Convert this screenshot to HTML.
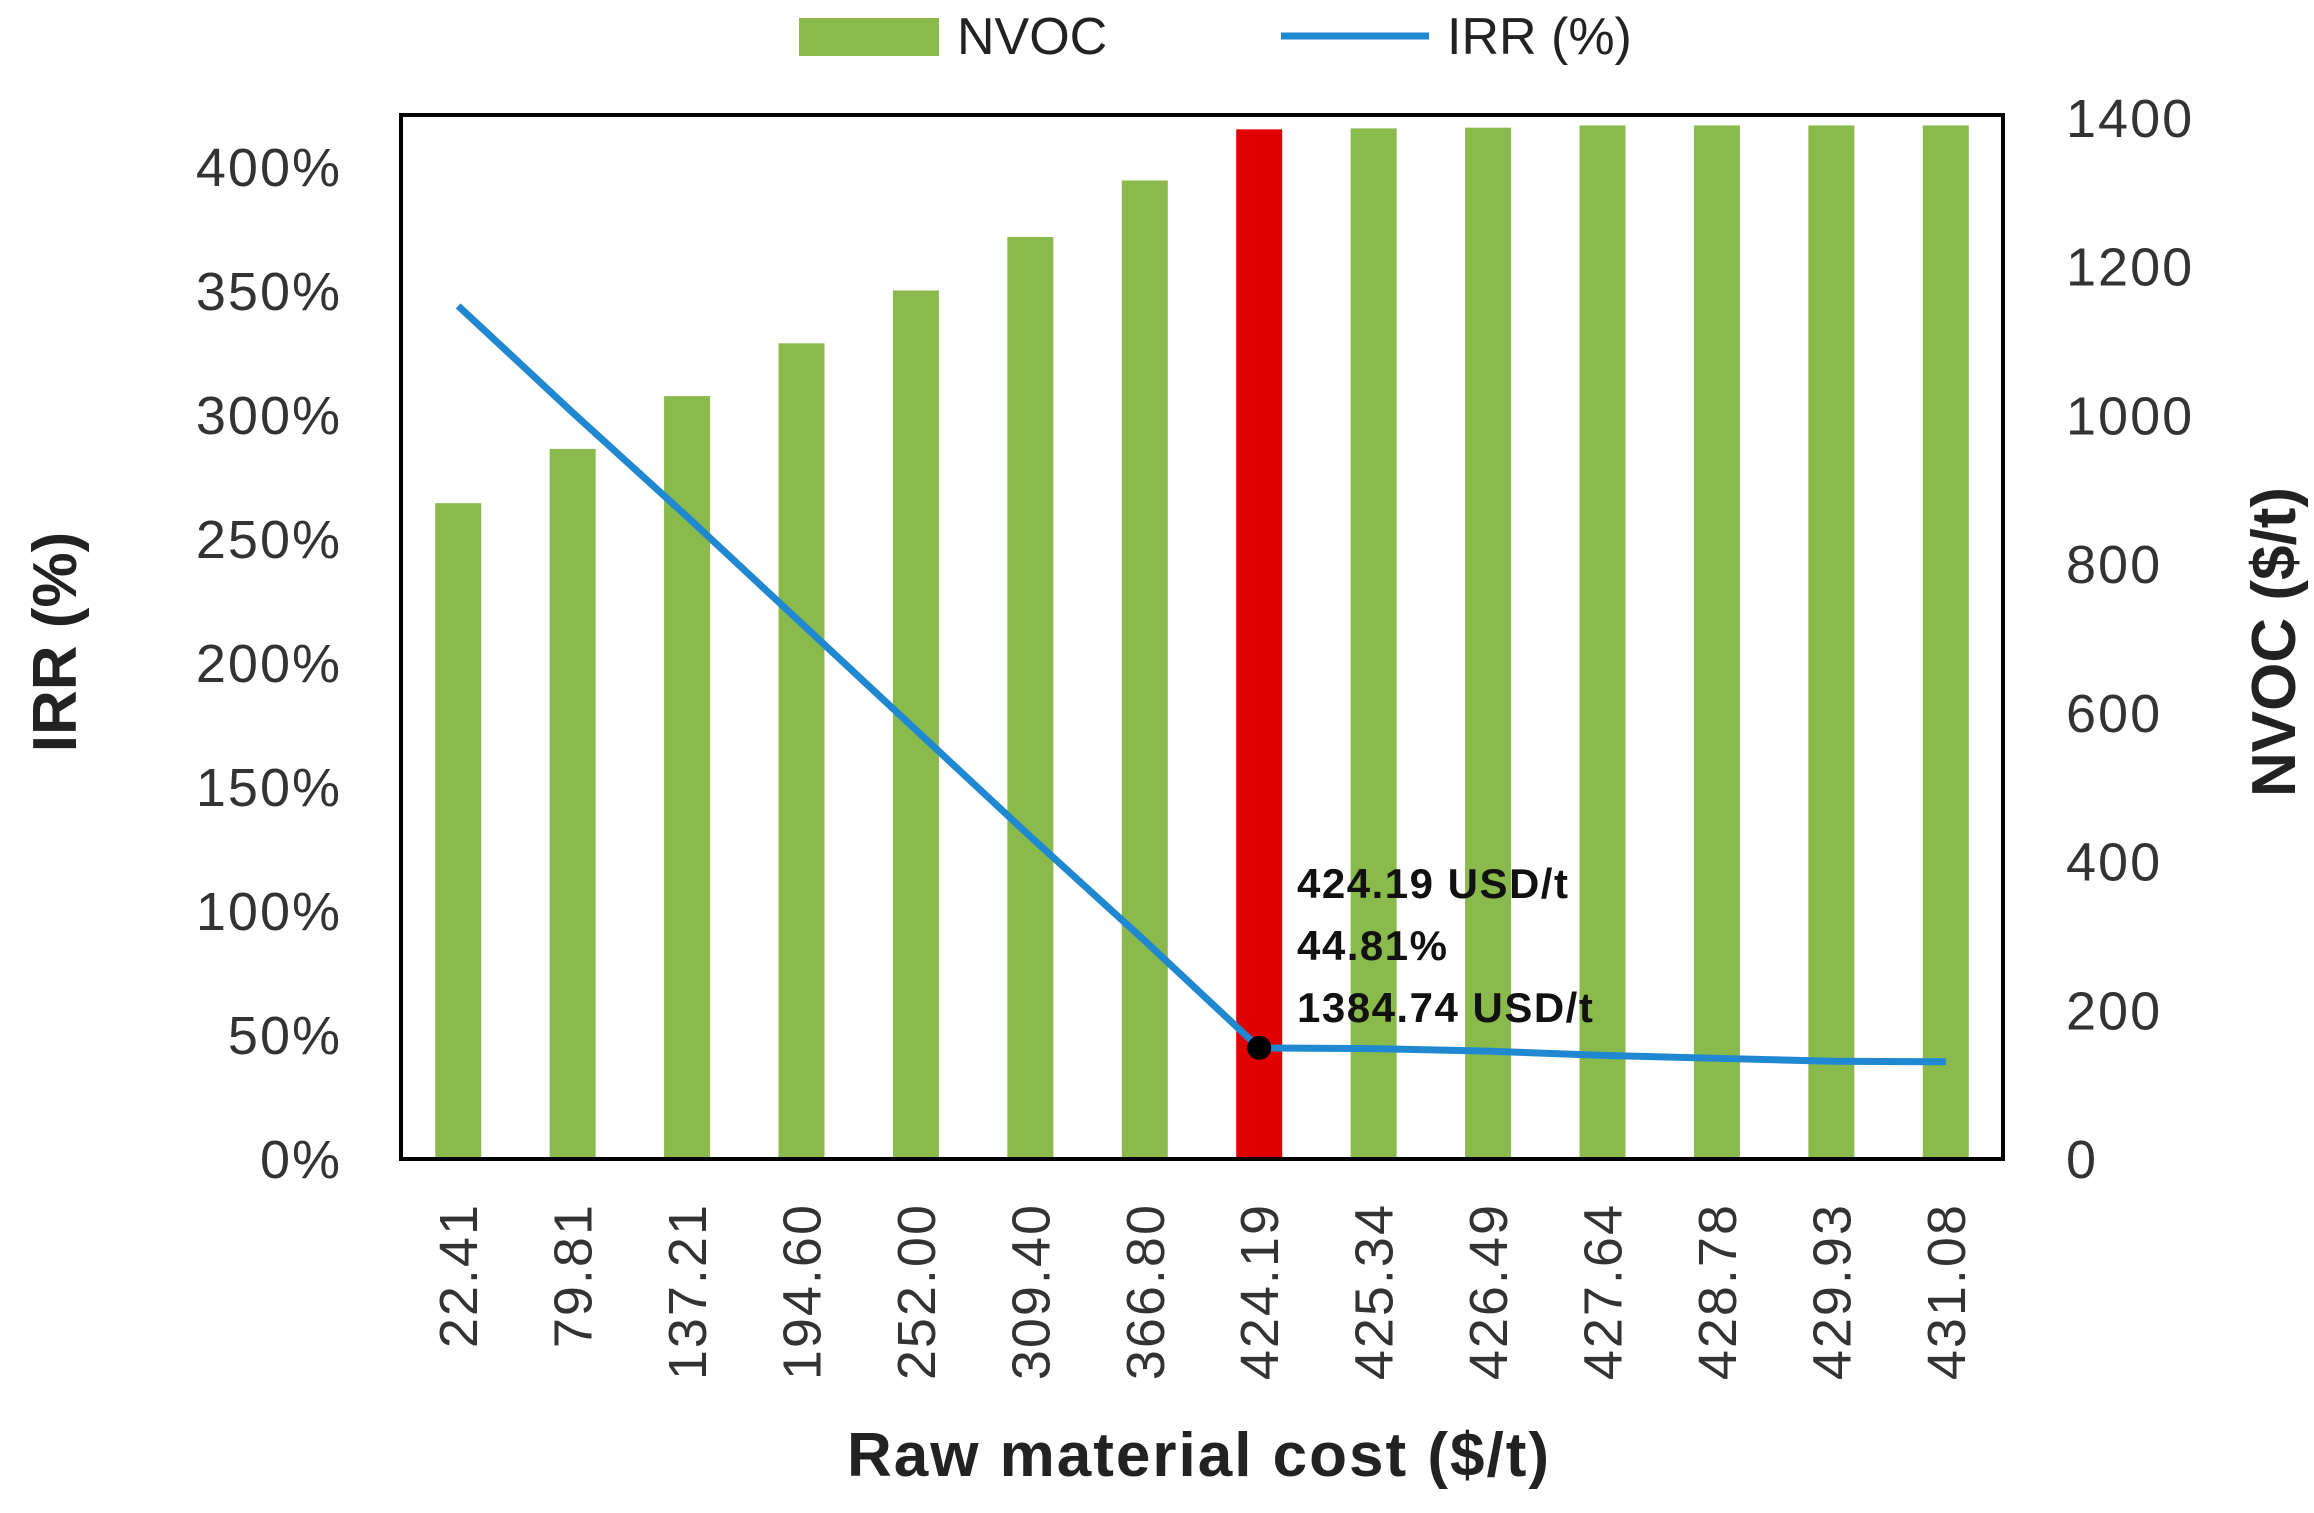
<!DOCTYPE html>
<html><head><meta charset="utf-8"><style>
html,body{margin:0;padding:0;background:#fff;}
svg{display:block;font-family:"Liberation Sans",sans-serif;}
</style></head><body>
<svg id="chart" width="2314" height="1513" viewBox="0 0 2314 1513"></svg>
<script>
const categories=["22.41","79.81","137.21","194.60","252.00","309.40","366.80","424.19","425.34","426.49","427.64","428.78","429.93","431.08"];
const nvocValues=[882,955,1026,1097,1168,1240,1316,1384.74,1386,1387,1390,1390,1390,1390];
const irrValues=[344,301,259,216,173,130,88,44.81,44.5,43.5,41.8,40.6,39.4,39.2];
const leftTicks=[0,50,100,150,200,250,300,350,400];
const rightTicks=[0,200,400,600,800,1000,1200,1400];
const highlightIndex=7;

const NS="http://www.w3.org/2000/svg";
const svg=document.getElementById('chart');
const L=401,R=2003,T=115,B=1159;
const yL=v=>B-(v/400)*(B-167);
const yR=v=>B-(v/1400)*(B-118);
const band=(R-L)/categories.length;
const xC=i=>L+(i+0.5)*band;
function mk(tag,attrs,text){const e=document.createElementNS(NS,tag);for(const k in attrs)e.setAttribute(k,attrs[k]);if(text!==undefined)e.textContent=text;svg.appendChild(e);return e;}

categories.forEach((c,i)=>{
  const h=B-yR(nvocValues[i]);
  const r=mk('rect',{x:xC(i)-23,y:yR(nvocValues[i]),width:46,height:h,fill:i===highlightIndex?'#e00000':'#8bba4c'});
  
  
});
const f=mk('rect',{x:L,y:T,width:R-L,height:B-T,fill:'none',stroke:'#000','stroke-width':4});


const pts=irrValues.map((v,i)=>xC(i)+','+yL(v)).join(' ');
const pl=mk('polyline',{points:pts,fill:'none',stroke:'#1f88d0','stroke-width':7,'stroke-linejoin':'round'});


const dot=mk('circle',{cx:xC(highlightIndex),cy:yL(irrValues[highlightIndex]),r:12,fill:'#000'});


const ann=[categories[highlightIndex]+'  USD/t',irrValues[highlightIndex].toFixed(2)+'%',nvocValues[highlightIndex].toFixed(2)+'  USD/t'];
ann.forEach((t,k)=>{
  const e=mk('text',{x:1297,y:898+k*62,'font-size':42,'font-weight':'bold',fill:'#111','xml:space':'preserve','letter-spacing':1.5},t);
  
  
});
leftTicks.forEach(v=>{
  const e=mk('text',{x:342,y:yL(v)+19,'font-size':54,'text-anchor':'end',fill:'#333','letter-spacing':2},v+'%');
  
  
});
rightTicks.forEach(v=>{
  const e=mk('text',{x:2066,y:yR(v)+19,'font-size':54,fill:'#333','letter-spacing':2},v);
  
  
});
categories.forEach((c,i)=>{
  const x=xC(i)+19,y=1203;
  const e=mk('text',{x:x,y:y,'font-size':54,'text-anchor':'end',fill:'#333','letter-spacing':2,transform:`rotate(-90 ${x} ${y})`},c);
  
  
});
let e;
e=mk('text',{x:1199,y:1476,'font-size':62,'font-weight':'bold','text-anchor':'middle',fill:'#222','letter-spacing':2},'Raw material cost ($/t)');

e=mk('text',{x:76,y:642,'font-size':62,'font-weight':'bold','text-anchor':'middle',fill:'#222',transform:'rotate(-90 76 642)'},'IRR (%)');

e=mk('text',{x:2295,y:642,'font-size':62,'font-weight':'bold','text-anchor':'middle',fill:'#222',transform:'rotate(-90 2295 642)'},'NVOC ($/t)');

e=mk('rect',{x:799,y:18,width:140,height:38,fill:'#8bba4c'});

e=mk('text',{x:957,y:54,'font-size':52,fill:'#222'},'NVOC');

e=mk('line',{x1:1281,y1:36,x2:1429,y2:36,stroke:'#1f88d0','stroke-width':7});

e=mk('text',{x:1447,y:54,'font-size':52,fill:'#222'},'IRR (%)');

</script>
</body></html>
